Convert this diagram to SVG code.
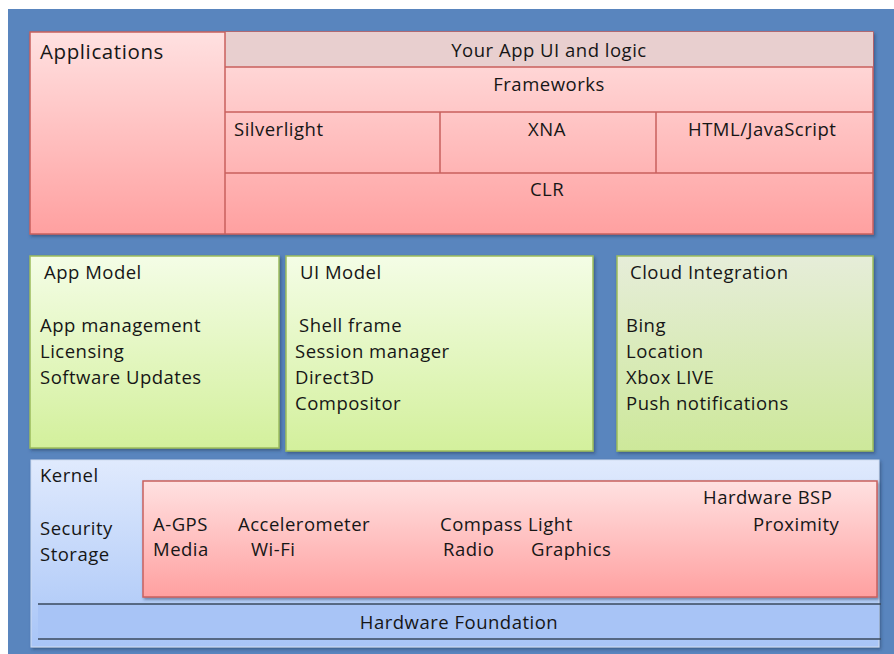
<svg xmlns="http://www.w3.org/2000/svg" width="894" height="654" viewBox="0 0 894 654">
<defs>
<linearGradient id="pink" x1="0" y1="0" x2="0" y2="1"><stop offset="0" stop-color="#ffe1e1"/><stop offset="1" stop-color="#ffa0a0"/></linearGradient>
<linearGradient id="green" x1="0" y1="0" x2="0" y2="1"><stop offset="0" stop-color="#f4fde6"/><stop offset="1" stop-color="#d3f09c"/></linearGradient>
<linearGradient id="green2" x1="0" y1="0" x2="0" y2="1"><stop offset="0" stop-color="#e6edd9"/><stop offset="1" stop-color="#cde89a"/></linearGradient>
<linearGradient id="blue" x1="0" y1="0" x2="0" y2="1"><stop offset="0" stop-color="#e0eafd"/><stop offset="1" stop-color="#a8c5f7"/></linearGradient>
<filter id="sh" x="-5%" y="-5%" width="110%" height="115%"><feDropShadow dx="1.5" dy="2" stdDeviation="1.5" flood-color="#1c3558" flood-opacity="0.5"/></filter>
</defs>
<style>
text{font-family:"Open Sans","Liberation Sans",sans-serif;font-size:18.5px;letter-spacing:0.5px;fill:#161616}
.big{font-size:20.5px;letter-spacing:0.6px}
.mid{text-anchor:middle}
.pk{stroke:#c9605e;stroke-width:1.5}
.ln{stroke:#c9605e;stroke-width:1.5;fill:none}
.gr{stroke:#9cbc5c;stroke-width:1.5}
</style>
<rect x="8" y="9" width="886" height="645" fill="#5985be"/>
<g id="applications">
<rect x="30" y="32" width="843" height="202" fill="url(#pink)" class="pk" filter="url(#sh)"/>
<rect x="225" y="32" width="648" height="35" fill="#e8cfcf"/>
<path class="ln" d="M225 32V234M225 67H873M225 112H873M225 173H873M440 112V173M656 112V173"/>
<text x="40" y="59" class="big">Applications</text>
<text x="549" y="57" class="mid">Your App UI and logic</text>
<text x="549" y="91" class="mid">Frameworks</text>
<text x="234" y="136">Silverlight</text>
<text x="547" y="136" class="mid">XNA</text>
<text x="688" y="136">HTML/JavaScript</text>
<text x="547" y="196" class="mid">CLR</text>
</g>
<g id="app-model">
<rect x="30" y="256" width="249" height="192" fill="url(#green)" class="gr" filter="url(#sh)"/>
<text x="44" y="279">App Model</text>
<text x="40" y="332">App management</text>
<text x="40" y="358">Licensing</text>
<text x="40" y="384">Software Updates</text>
</g>
<g id="ui-model">
<rect x="286" y="256" width="307" height="195" fill="url(#green)" class="gr" filter="url(#sh)"/>
<text x="300" y="279">UI Model</text>
<text x="299" y="332">Shell frame</text>
<text x="295" y="358">Session manager</text>
<text x="295" y="384">Direct3D</text>
<text x="295" y="410">Compositor</text>
</g>
<g id="cloud-integration">
<rect x="617" y="256" width="256" height="195" fill="url(#green2)" class="gr" filter="url(#sh)"/>
<text x="630" y="279">Cloud Integration</text>
<text x="626" y="332">Bing</text>
<text x="626" y="358">Location</text>
<text x="626" y="384">Xbox LIVE</text>
<text x="626" y="410">Push notifications</text>
</g>
<g id="kernel">
<rect x="31" y="460" width="848" height="187" fill="url(#blue)" stroke="#d0dcf0" stroke-width="1" filter="url(#sh)"/>
<rect x="38" y="604" width="841" height="35" fill="#a8c4f6"/>
<path d="M38 604H881M38 639H881" stroke="#3a4a5e" stroke-width="1.5"/>
<text x="40" y="482">Kernel</text>
<text x="40" y="535">Security</text>
<text x="40" y="561">Storage</text>
<text x="459" y="629" class="mid">Hardware Foundation</text>
</g>
<g id="hardware-bsp">
<rect x="143" y="481" width="734" height="116" fill="url(#pink)" class="pk" filter="url(#sh)"/>
<text x="703" y="504">Hardware BSP</text>
<text x="153" y="531">A-GPS</text>
<text x="238" y="531">Accelerometer</text>
<text x="440" y="531">Compass Light</text>
<text x="753" y="531">Proximity</text>
<text x="153" y="556">Media</text>
<text x="251" y="556">Wi-Fi</text>
<text x="443" y="556">Radio</text>
<text x="531" y="556">Graphics</text>
</g>
</svg>
